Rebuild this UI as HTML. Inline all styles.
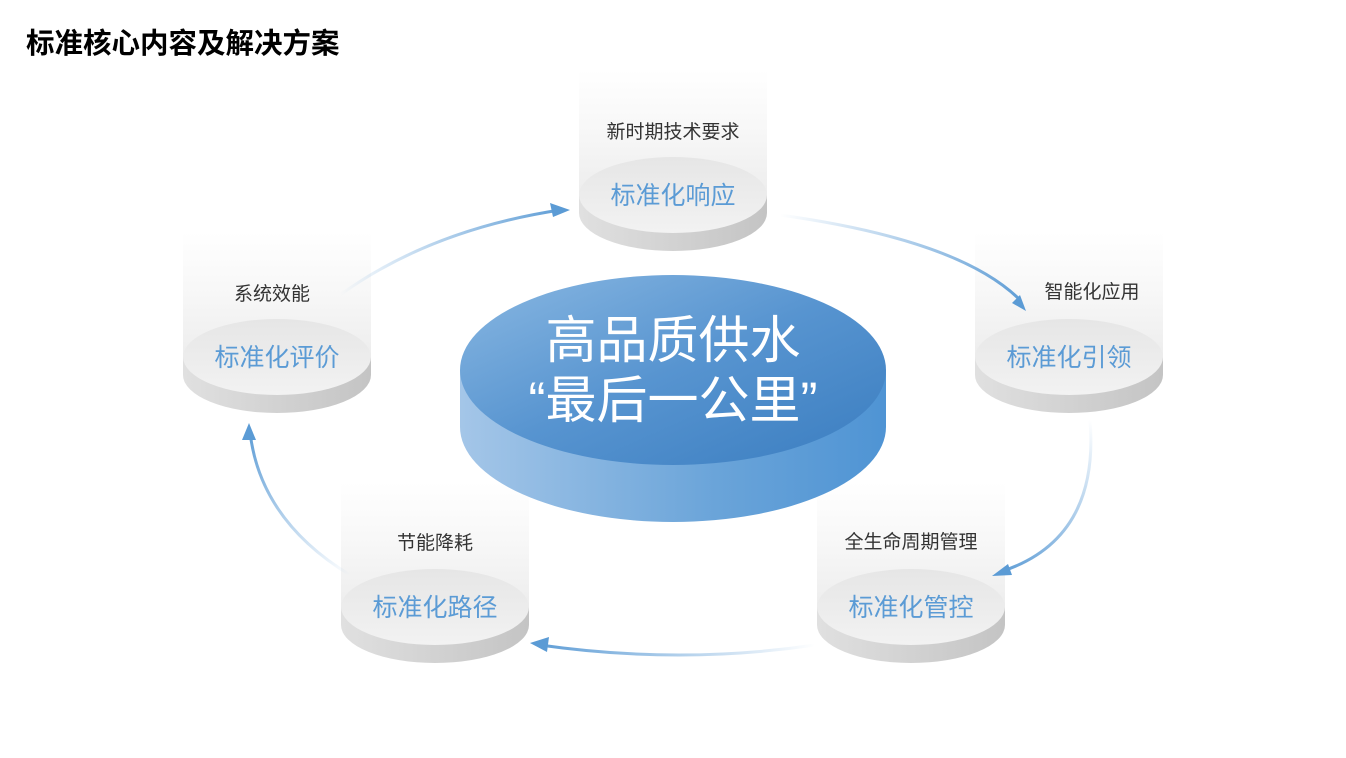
<!DOCTYPE html>
<html><head><meta charset="utf-8"><style>
body{margin:0;width:1346px;height:758px;background:#fff;overflow:hidden;font-family:"Liberation Sans","Noto Sans CJK SC",sans-serif}
svg{position:absolute;left:0;top:0}
</style></head><body>
<svg width="1346" height="758" viewBox="0 0 1346 758" font-family="Liberation Sans, Noto Sans CJK SC, sans-serif">
<defs>
<linearGradient id="col" x1="0" y1="1" x2="0" y2="0"><stop offset="0" stop-color="#ededed"/><stop offset="0.5" stop-color="#f7f7f7"/><stop offset="1" stop-color="#fff"/></linearGradient>
<linearGradient id="side" x1="0" y1="0" x2="1" y2="0"><stop offset="0" stop-color="#e0e0e0"/><stop offset="1" stop-color="#c4c4c4"/></linearGradient>
<linearGradient id="top" x1="0" y1="0" x2="0" y2="1"><stop offset="0" stop-color="#e6e6e6"/><stop offset="1" stop-color="#f2f2f2"/></linearGradient>
<linearGradient id="bside" x1="0" y1="0" x2="1" y2="0"><stop offset="0" stop-color="#a4c6e8"/><stop offset="0.6" stop-color="#6aa4d9"/><stop offset="1" stop-color="#4f94d4"/></linearGradient>
<linearGradient id="btop" x1="0" y1="0" x2="1" y2="1"><stop offset="0" stop-color="#8ab8e2"/><stop offset="0.5" stop-color="#5794d0"/><stop offset="1" stop-color="#3a7dc0"/></linearGradient>
<linearGradient id="a1" gradientUnits="userSpaceOnUse" x1="340" y1="295" x2="570" y2="210"><stop offset="0" stop-color="#5b9bd5" stop-opacity="0"/><stop offset="1" stop-color="#5b9bd5"/></linearGradient>
<linearGradient id="a2" gradientUnits="userSpaceOnUse" x1="780" y1="215" x2="1025" y2="310"><stop offset="0" stop-color="#5b9bd5" stop-opacity="0"/><stop offset="1" stop-color="#5b9bd5"/></linearGradient>
<linearGradient id="a3" gradientUnits="userSpaceOnUse" x1="1090" y1="420" x2="995" y2="575"><stop offset="0" stop-color="#5b9bd5" stop-opacity="0"/><stop offset="1" stop-color="#5b9bd5"/></linearGradient>
<linearGradient id="a4" gradientUnits="userSpaceOnUse" x1="815" y1="645" x2="530" y2="643"><stop offset="0" stop-color="#5b9bd5" stop-opacity="0"/><stop offset="1" stop-color="#5b9bd5"/></linearGradient>
<linearGradient id="a5" gradientUnits="userSpaceOnUse" x1="350" y1="575" x2="250" y2="425"><stop offset="0" stop-color="#5b9bd5" stop-opacity="0"/><stop offset="1" stop-color="#5b9bd5"/></linearGradient>
<g id="disc">
<rect x="-94" y="-125" width="188" height="125" fill="url(#col)"/>
<ellipse cx="0" cy="18" rx="94" ry="38" fill="url(#side)"/>
<rect x="-94" y="0" width="188" height="18" fill="url(#side)"/>
<ellipse cx="0" cy="0" rx="94" ry="38" fill="url(#top)"/>
</g>
</defs>
<text x="26" y="53" font-size="28.5" font-weight="bold" fill="#000">标准核心内容及解决方案</text>

<use href="#disc" x="673" y="195"/>
<use href="#disc" x="1069" y="357"/>
<use href="#disc" x="911" y="607"/>
<use href="#disc" x="435" y="607"/>
<use href="#disc" x="277" y="357"/>

<g fill="none" stroke-width="3">
<path d="M340 295 Q430 230 560 210" stroke="url(#a1)"/>
<path d="M780 215 Q960 240 1020 300" stroke="url(#a2)"/>
<path d="M1090 420 Q1100 540 1000 572" stroke="url(#a3)"/>
<path d="M815 645 Q680 665 540 645" stroke="url(#a4)"/>
<path d="M350 575 Q260 520 250 432" stroke="url(#a5)"/>
</g>
<g fill="#5b9bd5">
<polygon points="570,210 550,203 553,217"/>
<polygon points="1026,311 1012,303 1020,295"/>
<polygon points="992,576 1008,564 1012,575"/>
<polygon points="530,643 549,637 547,652"/>
<polygon points="249,423 242,440 256,440"/>
</g>

<g font-size="19" fill="#333" text-anchor="middle">
<text x="673" y="138">新时期技术要求</text>
<text x="1092" y="298">智能化应用</text>
<text x="911" y="548">全生命周期管理</text>
<text x="435" y="549">节能降耗</text>
<text x="272" y="300">系统效能</text>
</g>
<g font-size="25" fill="#5b9bd5" text-anchor="middle">
<text x="673" y="204">标准化响应</text>
<text x="1069" y="366">标准化引领</text>
<text x="911" y="616">标准化管控</text>
<text x="435" y="616">标准化路径</text>
<text x="277" y="366">标准化评价</text>
</g>

<ellipse cx="673" cy="427" rx="213" ry="95" fill="url(#bside)"/>
<rect x="460" y="370" width="426" height="57" fill="url(#bside)"/>
<ellipse cx="673" cy="370" rx="213" ry="95" fill="url(#btop)"/>
<g font-size="51" fill="#fff" text-anchor="middle">
<text x="673" y="358">高品质供水</text>
<text x="673" y="418">“最后一公里”</text>
</g>
</svg>
</body></html>
